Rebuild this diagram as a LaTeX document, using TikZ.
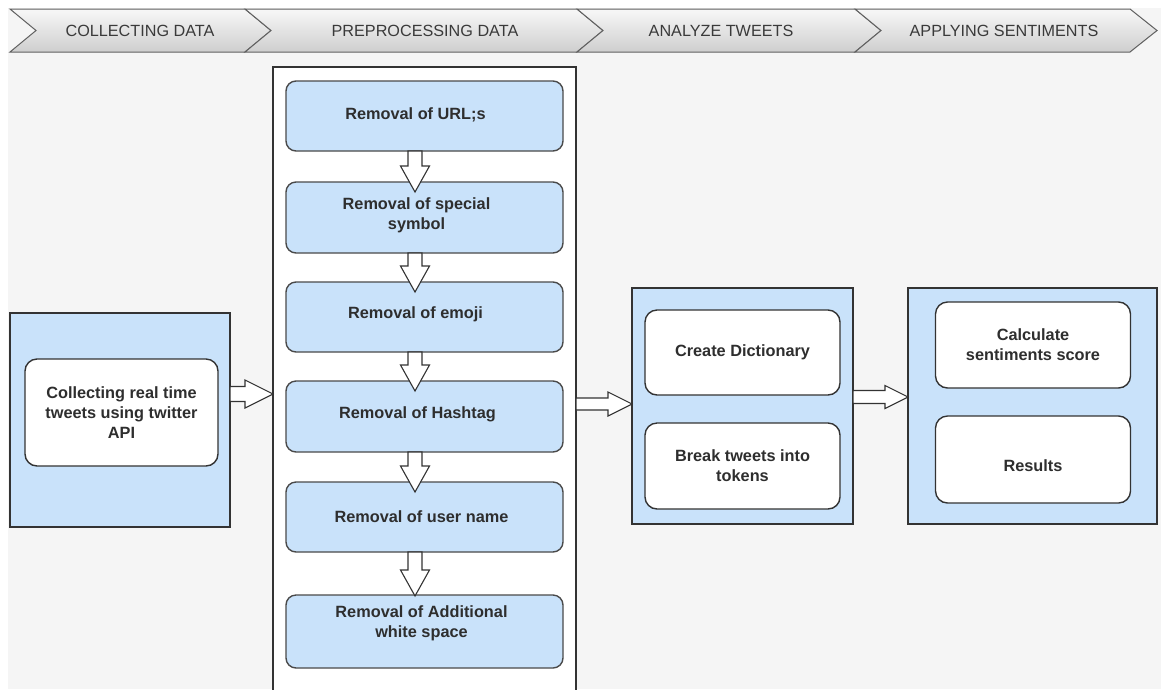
\documentclass[tikz,border=0pt]{standalone}
\usepackage{fontspec}
\setmainfont{Liberation Sans}
\usetikzlibrary{calc}
\definecolor{bgray}{HTML}{F5F5F5}
\definecolor{boxblue}{HTML}{C9E2FA}
\definecolor{edgec}{HTML}{4A4A4A}
\definecolor{txtc}{HTML}{2E2E2E}
\definecolor{bantxt}{HTML}{3A3A3A}
\tikzset{
  banner/.style={draw=gray!75!black, line width=1pt, top color=gray!6, bottom color=gray!38},
  bantext/.style={text=bantxt, font=\fontsize{16.2}{19}\selectfont, inner sep=0pt},
  container/.style={draw=black!80, line width=1.4pt, inner sep=0pt, outer sep=0pt},
  bluecont/.style={container, fill=boxblue},
  bbox/.style={draw=edgec, line width=1.4pt, fill=boxblue, rounded corners=10pt, minimum width=277, inner sep=0pt, outer sep=0pt},
  btext/.style={text=txtc, font=\fontsize{16.3}{20}\selectfont\bfseries, align=center, inner sep=0pt},
  wbox/.style={draw=black!80, line width=1.4pt, fill=white, rounded corners=12pt, inner sep=0pt, outer sep=0pt, align=center, text=txtc},
  wtext/.style={font=\fontsize{16.3}{20}\selectfont\bfseries},
  hollow/.style={draw=black!80, line width=1.1pt, fill=white, line join=miter}
}
\newcommand\harr[6]{%
  \draw[hollow] let \p1=(#1.east), \p2=(#2.west), \p3=(#3) in
    (\x1,\y3+#4pt) -- (\x2-#6pt,\y3+#4pt) -- (\x2-#6pt,\y3+#5pt) -- (\x2,\y3)
    -- (\x2-#6pt,\y3-#5pt) -- (\x2-#6pt,\y3-#4pt) -- (\x1,\y3-#4pt) -- cycle;}
\newcommand\varr[3]{%
  \draw[hollow] let \p1=(#1.south), \p2=(#2.north) in
    (\x1-9.5pt-7pt,\y1) -- (\x1-9.5pt-7pt,\y2-#3pt+26pt) -- (\x1-9.5pt-14.5pt,\y2-#3pt+26pt)
    -- (\x1-9.5pt,\y2-#3pt) -- (\x1-9.5pt+14.5pt,\y2-#3pt+26pt) -- (\x1-9.5pt+7pt,\y2-#3pt+26pt)
    -- (\x1-9.5pt+7pt,\y1) -- cycle;}
\begin{document}
\begin{tikzpicture}[x=1pt,y=-1pt]
\useasboundingbox (0,0) rectangle (1161,689);
\clip (0,0) rectangle (1161,689);
\fill[white] (0,0) rectangle (1161,689);
\fill[bgray] (8,8) rectangle (1161,689);
% banner
\path[banner] (10,9) -- (245,9) -- (271,30.5) -- (245,52) -- (10,52) -- (36,30.5) -- cycle;
\path[banner] (245,9) -- (577,9) -- (603,30.5) -- (577,52) -- (245,52) -- (271,30.5) -- cycle;
\path[banner] (577,9) -- (855,9) -- (881,30.5) -- (855,52) -- (577,52) -- (603,30.5) -- cycle;
\path[banner] (855,9) -- (1130,9) -- (1157,30.5) -- (1130,52) -- (855,52) -- (881,30.5) -- cycle;
\node[bantext] (s1) at (140,31) {COLLECTING DATA};
\node[bantext] (s2) at (425,31) {PREPROCESSING DATA};
\node[bantext] (s3) at (721,31) {ANALYZE TWEETS};
\node[bantext] (s4) at (1004,31) {APPLYING SENTIMENTS};
% collecting
\node[bluecont, minimum width=220, minimum height=214] (collect) at (120,420) {};
\node[wbox, wtext, minimum width=193, minimum height=107] (collecttxt) at (121.5,412.5) {Collecting real time\\tweets using twitter\\API};
% preprocessing
\node[container, fill=white, minimum width=303, minimum height=640] (prep) at (424.5,387) {};
\node[bbox, minimum height=70] (r1) at (424.5,116) {};
\node[bbox, minimum height=71] (r2) at (424.5,217.5) {};
\node[bbox, minimum height=70] (r3) at (424.5,317) {};
\node[bbox, minimum height=71] (r4) at (424.5,416.5) {};
\node[bbox, minimum height=70] (r5) at (424.5,517) {};
\node[bbox, minimum height=73] (r6) at (424.5,631.5) {};
\node[btext] (t1) at ($(r1.center)+(-9,-1)$) {Removal of URL;s};
\node[btext] (t2) at ($(r2.center)+(-8,-2)$) {Removal of special\\symbol};
\node[btext] (t3) at ($(r3.center)+(-9,-3)$) {Removal of emoji};
\node[btext] (t4) at ($(r4.center)+(-7,-2)$) {Removal of Hashtag};
\node[btext] (t5) at ($(r5.center)+(-3,0)$) {Removal of user name};
\node[btext] (t6) at ($(r6.center)+(-3,-8)$) {Removal of Additional\\white space};
\varr{r1}{r2}{10}
\varr{r2}{r3}{10}
\varr{r3}{r4}{10}
\varr{r4}{r5}{10}
\varr{r5}{r6}{1}
% analyze
\node[bluecont, minimum width=221, minimum height=236] (analyze) at (742.5,406) {};
\node[wbox, wtext, minimum width=195, minimum height=85] (dict) at (742.5,352.5) {Create Dictionary};
\node[wbox, wtext, minimum width=195, minimum height=86] (tokens) at (742.5,466) {Break tweets into\\tokens};
% sentiments
\node[bluecont, minimum width=249, minimum height=236] (senti) at (1032.5,406) {};
\node[wbox, wtext, minimum width=195, minimum height=86] (score) at (1033,345) {Calculate\\sentiments score};
\node[wbox, minimum width=195, minimum height=87] (results) at (1033,459.5) {};
\node[wtext, text=txtc, inner sep=0pt] (resultstxt) at ($(results.center)+(0,6)$) {Results};
% horizontal arrows
\coordinate (ya) at (0,394);
\coordinate (yb) at (0,404);
\coordinate (yc) at (0,397);
\harr{collect}{prep}{ya}{7.5}{14}{28}
\harr{prep}{analyze}{yb}{6}{12}{24}
\harr{analyze}{senti}{yc}{6.5}{11.5}{23}
\end{tikzpicture}
\end{document}
